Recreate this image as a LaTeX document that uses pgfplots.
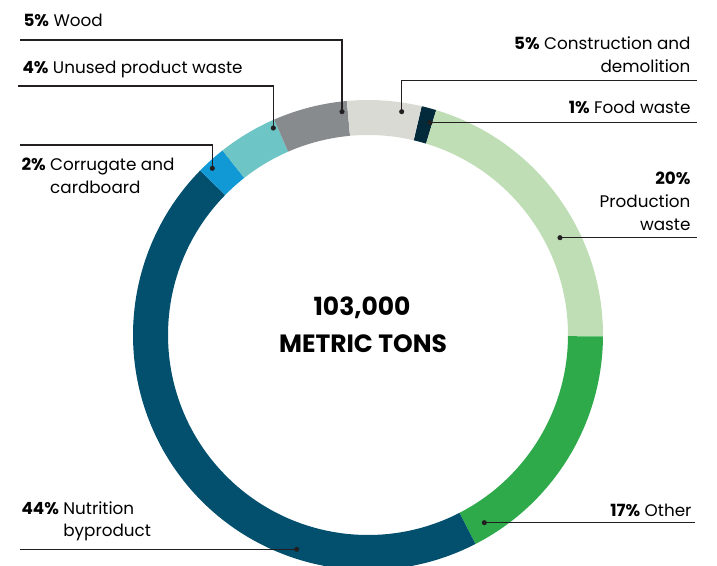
\documentclass[border=0pt]{standalone}
\usepackage{pgfplots}
\pgfplotsset{compat=1.18}
\usepackage{pgfplotstable}
\usepackage{fontspec}
\setmainfont{Poppins}

\definecolor{seg0}{HTML}{032A3A}
\definecolor{seg1}{HTML}{BFDEB5}
\definecolor{seg2}{HTML}{2EAA4B}
\definecolor{seg3}{HTML}{02506E}
\definecolor{seg4}{HTML}{1199D5}
\definecolor{seg5}{HTML}{6DC5C5}
\definecolor{seg6}{HTML}{888B8D}
\definecolor{seg7}{HTML}{DADAD5}
\definecolor{linecol}{HTML}{231F20}

% share of each category, in order clockwise from the top
\pgfplotstableread{
label pct
Food 1
Production 20
Other 17
Nutrition 44
Corrugate 2
Unused 4
Wood 5
Construction 5
}\data

\def\cx{368}\def\cy{335}\def\Ro{235}\def\Ri{200}
\def\startang{13.2}

\pgfmathsetmacro\total{0}
\pgfplotsforeachungrouped \i in {0,...,7}{%
  \pgfplotstablegetelem{\i}{pct}\of\data
  \pgfmathsetmacro\total{\total+\pgfplotsretval}%
}
\pgfmathsetmacro\cum{\startang}
\pgfplotsforeachungrouped \i in {0,...,7}{%
  \pgfplotstablegetelem{\i}{pct}\of\data
  \pgfmathsetmacro\a{90-\cum}%
  \pgfmathsetmacro\cum{\cum+\pgfplotsretval*360/\total}%
  \pgfmathsetmacro\b{90-\cum}%
  \pgfmathsetmacro\xo{\cx+\Ro*cos(\a)}%
  \pgfmathsetmacro\yo{\cy-\Ro*sin(\a)}%
  \pgfmathsetmacro\xi{\cx+\Ri*cos(\b)}%
  \pgfmathsetmacro\yi{\cy-\Ri*sin(\b)}%
  \expandafter\xdef\csname segA\i\endcsname{\a}%
  \expandafter\xdef\csname segB\i\endcsname{\b}%
  \expandafter\xdef\csname segXo\i\endcsname{\xo}%
  \expandafter\xdef\csname segYo\i\endcsname{\yo}%
  \expandafter\xdef\csname segXi\i\endcsname{\xi}%
  \expandafter\xdef\csname segYi\i\endcsname{\yi}%
}

\newcommand\lab{\fontsize{16.8bp}{22.5bp}\selectfont}
\newcommand\ctr{\fontsize{25bp}{30bp}\selectfont\bfseries}

\begin{document}
\begin{tikzpicture}
\begin{axis}[
  x=1bp, y=1bp, xmin=0, xmax=717, ymin=0, ymax=566, y dir=reverse,
  axis line style={draw=none}, ticks=none, scale only axis,
  every node/.append style={inner sep=0pt, text=black},
]
% ring segments from the table
\pgfplotsinvokeforeach{0,...,7}{%
  \fill[seg#1] (axis cs:\csname segXo#1\endcsname,\csname segYo#1\endcsname)
    arc[start angle=\csname segA#1\endcsname, end angle=\csname segB#1\endcsname, radius=\Ro bp]
    -- (axis cs:\csname segXi#1\endcsname,\csname segYi#1\endcsname)
    arc[start angle=\csname segB#1\endcsname, end angle=\csname segA#1\endcsname, radius=\Ri bp]
    -- cycle;
}
% leader lines
\addplot[linecol, line width=1.1bp, mark=none] coordinates {(20,40) (342,40) (342,111.7)};
\addplot[linecol, line width=1.1bp, mark=none] coordinates {(18,86) (273.3,86) (273.3,128)};
\addplot[linecol, line width=1.1bp, mark=none] coordinates {(20,145) (212.3,145) (212.3,168.3)};
\addplot[linecol, line width=1.1bp, mark=none] coordinates {(696.7,80.7) (401.7,80.7) (401.7,111.7)};
\addplot[linecol, line width=1.1bp, mark=none] coordinates {(696.7,122.7) (430,122.7)};
\addplot[linecol, line width=1.1bp, mark=none] coordinates {(696.7,237.7) (560,237.7)};
\addplot[linecol, line width=1.1bp, mark=none] coordinates {(695,522.7) (484.3,522.7)};
\addplot[linecol, line width=1.1bp, mark=none] coordinates {(20,549.3) (296.7,549.3)};
% dots
\addplot[only marks, mark=*, mark size=2.3bp, linecol, mark options={fill=linecol, draw=linecol}]
  coordinates {(342,111.7) (273.3,128) (212.3,168.3) (401.7,111.7) (430,122.7) (560,237.7) (484.3,522.7) (296.7,549.3)};

% labels left
\node[anchor=base west] at (axis cs:20,27) {\lab\textbf{5\%} Wood};
\node[anchor=base west] at (axis cs:19,74) {\lab\textbf{4\%} Unused product waste};
\node[anchor=base west] at (axis cs:18,171) {\lab\textbf{2\%} \begin{tabular}[t]{@{}l@{}}Corrugate and\\cardboard\end{tabular}};
\node[anchor=base west] at (axis cs:18,514) {\lab\textbf{44\%} \begin{tabular}[t]{@{}l@{}}Nutrition\\byproduct\end{tabular}};
% labels right
\node[anchor=base east] at (axis cs:694,50) {\lab\begin{tabular}[t]{@{}r@{}}\textbf{5\%} Construction and\\demolition\end{tabular}};
\node[anchor=base east] at (axis cs:694,113.3) {\lab\textbf{1\%} Food waste};
\node[anchor=base east] at (axis cs:694,185) {\lab\begin{tabular}[t]{@{}r@{}}\textbf{20\%}\\Production\\waste\end{tabular}};
\node[anchor=base east] at (axis cs:695,516) {\lab\textbf{17\%} Other};
% centre
\node[anchor=base] at (axis cs:362,315) {\ctr 103,000};
\node[anchor=base] at (axis cs:363,352.7) {\ctr METRIC TONS};
\end{axis}
\end{tikzpicture}
\end{document}
